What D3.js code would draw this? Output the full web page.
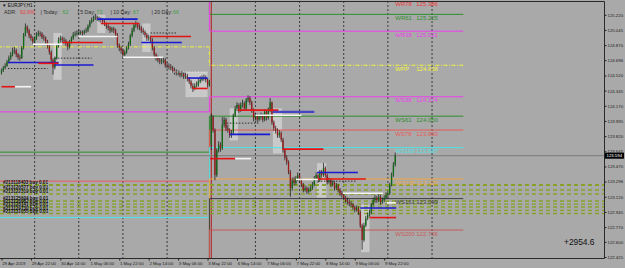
<!DOCTYPE html>
<html>
<head>
<meta charset="utf-8">
<script src="https://cdn.jsdelivr.net/npm/d3@7"></script>
<style>
  body { margin: 0; background: #a9a9a9; }
  svg { display: block; font-family: "Liberation Sans", Arial, sans-serif; }
</style>
</head>
<body>
<div id="chart"></div>
<script>
// ---- data ----
const timeLabels = ["29 Apr 2019","29 Apr 22:00","30 Apr 14:00","1 May 06:00","1 May 22:00","2 May 14:00",
  "3 May 06:00","3 May 22:00","6 May 14:00","7 May 06:00","7 May 22:00","8 May 14:00","9 May 06:00","9 May 22:00"];
const timeBars = [0,16,32,48,64,80,96,112,128,144,160,176,192,208];
const daySeparators = [18,42,66,90,138,162,186,210,234];
const weekStart = 114;

const priceTicks = [125.220,125.045,124.870,124.696,124.520,124.345,124.170,123.995,123.820,
  123.645,123.470,123.296,123.120,122.945,122.770,122.600,122.425];

// one value per H1 bar, bar 0 = 29 Apr 06:00
const closes = [
  124.58,124.61,124.63,124.68,124.72,124.76,124.80,124.81,124.76,124.73,
  124.72,124.84,124.99,125.08,125.04,124.98,124.95,124.91,124.95,124.99,
  125.01,125.00,124.96,124.95,124.91,124.86,124.79,124.70,124.61,124.72,
  124.86,124.93,124.95,124.93,124.92,124.89,124.85,124.91,124.95,124.99,
  125.00,125.01,125.02,125.02,125.01,125.03,125.04,125.09,125.14,125.16,
  125.18,125.19,125.18,125.17,125.16,125.14,125.11,125.09,125.07,125.04,
  125.06,125.04,124.99,124.87,124.84,124.81,124.76,124.79,124.84,124.88,
  124.98,125.04,125.10,125.11,125.08,125.07,125.04,125.02,124.99,124.95,
  124.96,124.93,124.84,124.76,124.72,124.70,124.68,124.69,124.70,124.64,
  124.63,124.62,124.61,124.58,124.56,124.55,124.55,124.53,124.54,124.51,
  124.51,124.48,124.45,124.40,124.37,124.40,124.41,124.45,124.47,124.48,
  124.49,124.47,124.41,124.45,124.04,123.89,123.37,123.66,123.72,123.68,
  123.95,124.01,123.91,123.89,123.83,123.86,124.06,124.14,124.18,124.12,
  124.18,124.20,124.14,124.24,124.26,124.21,124.12,124.03,124.06,124.01,
  124.04,124.06,124.01,124.10,124.03,124.12,124.21,123.98,123.91,123.89,
  123.83,123.86,123.78,123.66,123.57,123.52,123.41,123.22,123.31,123.28,
  123.33,123.37,123.31,123.26,123.20,123.22,123.18,123.20,123.22,123.26,
  123.33,123.37,123.31,123.41,123.37,123.45,123.37,123.29,123.31,123.26,
  123.28,123.22,123.25,123.20,123.16,123.14,123.11,123.08,123.06,123.04,
  123.03,123.00,122.97,122.99,122.94,122.79,122.62,122.79,122.87,122.91,
  122.94,123.03,123.08,123.11,123.08,123.12,123.06,123.08,123.11,123.14,
  123.16,123.26,123.37,123.49,123.594];
const highs = [
  124.60,124.63,124.66,124.70,124.75,124.79,124.84,124.85,124.83,124.78,
  124.76,124.86,125.01,125.12,125.10,125.06,125.00,124.97,124.97,125.02,
  125.04,125.03,125.02,124.99,124.97,124.93,124.88,124.81,124.72,124.74,
  124.88,124.96,124.98,124.97,124.96,124.94,124.91,124.93,124.97,125.02,
  125.03,125.04,125.05,125.04,125.04,125.05,125.07,125.11,125.16,125.19,
  125.21,125.23,125.21,125.20,125.19,125.18,125.16,125.13,125.11,125.09,
  125.08,125.08,125.06,125.01,124.89,124.86,124.83,124.81,124.86,124.91,
  125.00,125.07,125.12,125.15,125.13,125.11,125.09,125.07,125.04,125.01,
  124.99,124.98,124.95,124.86,124.78,124.75,124.73,124.72,124.73,124.72,
  124.67,124.66,124.65,124.63,124.61,124.59,124.58,124.57,124.57,124.56,
  124.55,124.54,124.50,124.47,124.43,124.43,124.45,124.48,124.51,124.52,
  124.53,124.52,124.49,124.47,124.08,124.06,123.91,123.68,123.76,123.75,
  124.04,124.04,124.03,123.95,123.91,123.89,124.08,124.17,124.21,124.20,
  124.21,124.24,124.22,124.26,124.29,124.28,124.23,124.14,124.09,124.08,
  124.07,124.09,124.08,124.13,124.12,124.15,124.26,124.22,124.00,123.94,
  123.91,123.89,123.88,123.80,123.68,123.60,123.54,123.43,123.34,123.35,
  123.36,123.40,123.39,123.33,123.28,123.25,123.24,123.23,123.25,123.29,
  123.36,123.40,123.39,123.43,123.43,123.51,123.47,123.39,123.34,123.33,
  123.31,123.30,123.28,123.27,123.22,123.19,123.16,123.13,123.11,123.09,
  123.07,123.05,123.02,123.02,123.01,122.96,122.81,122.82,122.90,122.94,
  122.97,123.05,123.11,123.14,123.13,123.15,123.14,123.11,123.14,123.17,
  123.19,123.28,123.40,123.52,123.63];
const lows = [
  124.53,124.56,124.59,124.62,124.66,124.70,124.74,124.77,124.73,124.70,
  124.69,124.71,124.82,124.97,125.01,124.95,124.92,124.88,124.89,124.93,
  124.97,124.97,124.94,124.92,124.88,124.83,124.76,124.66,124.53,124.59,
  124.70,124.84,124.90,124.90,124.89,124.86,124.81,124.83,124.89,124.93,
  124.97,124.98,124.99,124.99,124.98,124.99,125.01,125.02,125.07,125.12,
  125.14,125.16,125.15,125.14,125.13,125.11,125.09,125.06,125.04,125.01,
  125.02,125.01,124.96,124.84,124.80,124.77,124.72,124.74,124.77,124.82,
  124.86,124.96,125.02,125.07,125.05,125.04,125.01,124.99,124.96,124.92,
  124.92,124.90,124.81,124.72,124.69,124.67,124.65,124.65,124.66,124.61,
  124.60,124.59,124.58,124.55,124.53,124.52,124.52,124.50,124.50,124.48,
  124.48,124.45,124.42,124.37,124.33,124.35,124.38,124.39,124.43,124.45,
  124.46,124.44,124.38,124.39,123.66,123.86,123.31,123.35,123.63,123.64,
  123.66,123.92,123.88,123.86,123.80,123.80,123.84,124.04,124.11,124.09,
  124.10,124.15,124.11,124.12,124.21,124.18,124.09,123.99,124.00,123.98,
  123.99,124.01,123.98,123.99,124.00,124.01,124.10,123.95,123.88,123.85,
  123.80,123.80,123.75,123.63,123.54,123.49,123.38,123.12,123.19,123.25,
  123.26,123.30,123.28,123.23,123.17,123.18,123.15,123.16,123.18,123.20,
  123.24,123.31,123.28,123.29,123.34,123.35,123.34,123.26,123.27,123.23,
  123.24,123.19,123.20,123.17,123.13,123.11,123.08,123.05,123.03,123.01,
  123.00,122.97,122.94,122.95,122.91,122.76,122.51,122.60,122.77,122.85,
  122.89,122.92,123.01,123.05,123.05,123.06,123.03,123.04,123.06,123.09,
  123.11,123.14,123.24,123.35,123.47];
// opens follow the previous close, except the first bar and the Monday gap
const gapOpens = { 0: 124.55, 114: 123.72 };

// weekly pivot levels: previous week / current week
const pivotNames  = ["WR78","WR61","WR38","WPP","WS38","WS61","WS78","WS100","WS138","WS161","WS200"];
const pivotPrev   = [126.39,125.97,125.60,124.85,124.10,123.635,123.30,122.88,122.13,121.68,120.91];
const pivotNow    = [125.386,125.225,125.031,124.638,124.274,124.050,123.890,123.687,123.325,123.099,122.736];
const pivotColors = ["#e83a3a","#2f8f2f","#ee3cee","#f4f43c","#ee3cee","#2f8f2f","#e85a5a","#4ee6e6","#f0a640","#3c3c3c","#c85a5a"];
const pivotEndBar = 251;
const pivotLabelBar = 214;

// open positions
const tradePrices  = [123.256,123.198,123.152,123.071,123.036,123.002,122.962,122.927];
const tradeTickets = ["#213118403","#213120577","#213122319","#213125604","#213126982","#213128141","#213129730","#213131055"];
const tradeLots = "buy 0.01";

// light session boxes: [fromBar, toBar, top, bottom]
const sessionBoxes = [[28.2,32.7,125.01,124.47],[52,56.5,125.22,125.01],[76.5,81,125.12,124.79],
  [100,112,124.56,124.27],[124,128.5,124.14,123.77],[147.5,152.5,124.14,123.62],
  [171.5,176.5,123.51,123.11],[195.5,200,123.03,122.48]];

// short high/low markers: [fromBar, toBar, price, kind]
const markers = [
  [52,74,125.17,"B"],[54,75,125.12,"R"],[42,63,124.97,"W"],[33,55,124.90,"R"],[17,33,124.88,"W"],
  [3.5,31,124.67,"B"],[20,31,124.66,"R"],[29,50,124.64,"B"],[29,49,124.72,"K"],[3.5,25,124.60,"K"],
  [66,88,124.73,"W"],[81,103,124.97,"R"],[76,98,124.90,"B"],[81,95,125.01,"K"],[92,112,124.56,"D"],
  [101,112,124.49,"B"],[104,112,124.37,"R"],[0,7.3,124.39,"R"],[7.3,16,124.39,"W"],
  [128.5,150.5,124.12,"R"],[147.5,170,124.10,"P"],[122.5,140.5,123.97,"K"],[138,163,124.06,"W"],
  [124,146,123.84,"B"],[153,175,123.67,"R"],[113.3,127,123.56,"R"],[127,135.6,123.56,"W"],
  [171.5,193.7,123.40,"B"],[172,198,123.325,"R"],[160,172,123.32,"W"],[172,193,123.30,"K"],
  [185.6,207.3,123.16,"W"],[195,214.5,122.99,"B"],[200,214.5,122.88,"R"],[209.5,215,123.05,"W"]];
const markerStyle = {
  R: { c: "#e41414", w: 1.6 }, B: { c: "#1a1ad0", w: 1.6 }, W: { c: "#f4f4f4", w: 1.6 },
  P: { c: "#4646c4", w: 2.2 }, K: { c: "#222", w: 0.9, d: "1.5,1.5" }, D: { c: "#e8e8e8", w: 0.9, d: "1.5,1.5" } };

const bid = 123.594;
const adrPct = "92.6%";
const adrNames = ["Today","5 Day","10 Day","20 Day"];
const adrValues = [62,73,67,66];
const profitText = "+2954.6";

// ---- layout ----
const W = 625, H = 268;
const plotTop = 1, plotRight = 604, plotBottom = 258;

const svg = d3.select("#chart").append("svg").attr("width", W).attr("height", H);
svg.append("rect").attr("width", W).attr("height", H).attr("fill", "#a9a9a9");

svg.append("defs").append("clipPath").attr("id", "clip")
  .append("rect").attr("x", 0).attr("y", plotTop).attr("width", plotRight).attr("height", plotBottom - plotTop);

const x = d3.scaleLinear().domain([0, 328]).range([1.5, 605]);
const y = d3.scaleLinear().domain([122.425, 125.22]).range([257, 14.8]);

const plot = svg.append("g").attr("clip-path", "url(#clip)");

// session boxes
plot.append("g").selectAll("rect").data(sessionBoxes).join("rect")
  .attr("x", d => x(d[0])).attr("width", d => x(d[1]) - x(d[0]))
  .attr("y", d => y(d[2])).attr("height", d => y(d[3]) - y(d[2]))
  .attr("fill", "#c9c9c9");

// day separators
plot.append("g").selectAll("line").data(daySeparators).join("line")
  .attr("x1", d => x(d)).attr("x2", d => x(d))
  .attr("y1", plotTop).attr("y2", plotBottom)
  .attr("stroke", "#1e1e1e").attr("stroke-width", 0.8).attr("stroke-dasharray", "2,2");

// week start
plot.append("line").attr("x1", x(weekStart)).attr("x2", x(weekStart))
  .attr("y1", plotTop).attr("y2", plotBottom).attr("stroke", "#b01818").attr("stroke-width", 1);

// weekly pivots (step from previous week to current week)
const stepX = x(weekStart - 1);
pivotNames.forEach((name, i) => {
  const pts = [[x(-2), y(pivotPrev[i])], [stepX, y(pivotPrev[i])], [stepX, y(pivotNow[i])], [x(pivotEndBar), y(pivotNow[i])]];
  plot.append("path").attr("d", d3.line()(pts)).attr("fill", "none")
    .attr("stroke", pivotColors[i]).attr("stroke-width", 1)
    .attr("stroke-dasharray", name === "WPP" ? "4,1.5,1,1.5" : null);
});

// trade lines
plot.append("g").selectAll("line").data(tradePrices).join("line")
  .attr("x1", 0).attr("x2", plotRight)
  .attr("y1", d => y(d)).attr("y2", d => y(d))
  .attr("stroke", "#86a22a").attr("stroke-width", (d, i) => i === 0 ? 2 : 1.3)
  .attr("stroke-dasharray", "4,3");

// bid line
plot.append("line").attr("x1", 0).attr("x2", plotRight).attr("y1", y(bid)).attr("y2", y(bid))
  .attr("stroke", "#7c7c7c").attr("stroke-width", 1);

// candles
const bars = closes.map((c, i) => ({
  i, c, h: highs[i], l: lows[i],
  o: gapOpens[i] !== undefined ? gapOpens[i] : closes[i - 1]
}));
const cg = plot.append("g");
cg.selectAll("line").data(bars).join("line")
  .attr("x1", d => x(d.i)).attr("x2", d => x(d.i))
  .attr("y1", d => y(d.h)).attr("y2", d => y(d.l))
  .attr("stroke", "#101010").attr("stroke-width", 0.7);
cg.selectAll("rect").data(bars).join("rect")
  .attr("x", d => x(d.i) - 0.65).attr("width", 1.3)
  .attr("y", d => y(Math.max(d.o, d.c)))
  .attr("height", d => Math.max(0.7, Math.abs(y(d.o) - y(d.c))))
  .attr("fill", d => d.c >= d.o ? "#0f6a14" : "#9a1a1a");

// markers
plot.append("g").selectAll("line").data(markers).join("line")
  .attr("x1", d => x(d[0])).attr("x2", d => x(d[1]))
  .attr("y1", d => y(d[2])).attr("y2", d => y(d[2]))
  .attr("stroke", d => markerStyle[d[3]].c)
  .attr("stroke-width", d => markerStyle[d[3]].w)
  .attr("stroke-dasharray", d => markerStyle[d[3]].d || null);

// pivot labels
const lg = plot.append("g").attr("font-size", "6px");
pivotNames.forEach((name, i) => {
  const ly = y(pivotNow[i]) + 5.6;
  lg.append("text").attr("x", x(pivotLabelBar)).attr("y", ly).attr("fill", pivotColors[i]).text(name);
  lg.append("text").attr("x", x(pivotLabelBar) + 21).attr("y", ly).attr("fill", pivotColors[i]).text(pivotNow[i].toFixed(3));
});

// trade labels
plot.append("g").selectAll("text").data(tradePrices).join("text")
  .attr("x", 3).attr("y", d => y(d) - 0.8)
  .attr("font-size", "4.6px").attr("font-weight", "bold").attr("fill", "#111")
  .text((d, i) => tradeTickets[i] + " " + tradeLots);

// frame
svg.append("path")
  .attr("d", `M0,${plotTop + 0.5}H${plotRight + 0.5}V${plotBottom + 0.5}H0`)
  .attr("fill", "none").attr("stroke", "#2a2a2a").attr("stroke-width", 1);

// price axis
const ya = svg.append("g").attr("transform", `translate(${plotRight + 0.5},0)`)
  .call(d3.axisRight(y).tickValues(priceTicks).tickSize(2).tickPadding(1).tickFormat(d => d.toFixed(3)));
ya.select(".domain").remove();
ya.selectAll("line").attr("stroke", "#222");
ya.selectAll("text").attr("font-size", "4.3px").attr("fill", "#1a1a1a").attr("font-family", "Liberation Sans, Arial, sans-serif");

// bid tag
svg.append("rect").attr("x", plotRight + 1).attr("y", y(bid) - 3).attr("width", 19).attr("height", 6).attr("fill", "#000");
svg.append("text").attr("x", plotRight + 2.5).attr("y", y(bid)).attr("dy", "0.35em")
  .attr("font-size", "4.3px").attr("fill", "#fff").text(bid.toFixed(3));

// time axis
const xa = svg.append("g").attr("transform", `translate(0,${plotBottom + 0.5})`)
  .call(d3.axisBottom(x).tickValues(timeBars).tickSize(2).tickPadding(1).tickFormat((d, i) => timeLabels[i]));
xa.select(".domain").remove();
xa.selectAll("line").attr("stroke", "#222");
xa.selectAll("text").attr("text-anchor", "start").attr("dx", "0.2px")
  .attr("font-size", "4.3px").attr("fill", "#1a1a1a").attr("font-family", "Liberation Sans, Arial, sans-serif");

// header
svg.append("text").attr("x", 2).attr("y", 6.5).attr("font-size", "4.6px").attr("fill", "#111").text("\u25BC EURJPY,H1");
const hdr = svg.append("text").attr("x", 4).attr("y", 14).attr("font-size", "5.2px");
hdr.append("tspan").attr("fill", "#2e2e2e").text("ADR: ");
hdr.append("tspan").attr("x", 20).attr("fill", "#e83a3a").text(adrPct);
const adrX = [[40.5, 62.5], [77.5, 96.5], [110.5, 133], [151.5, 173]];
adrNames.forEach((n, i) => {
  hdr.append("tspan").attr("x", adrX[i][0]).attr("fill", "#2e2e2e").text("| " + n + ":");
  hdr.append("tspan").attr("x", adrX[i][1]).attr("fill", "#3f9f3f").text(adrValues[i]);
});

// floating profit
svg.append("text").attr("x", 564).attr("y", 245).attr("font-size", "8.4px").attr("fill", "#111").text(profitText);
</script>
</body>
</html>
